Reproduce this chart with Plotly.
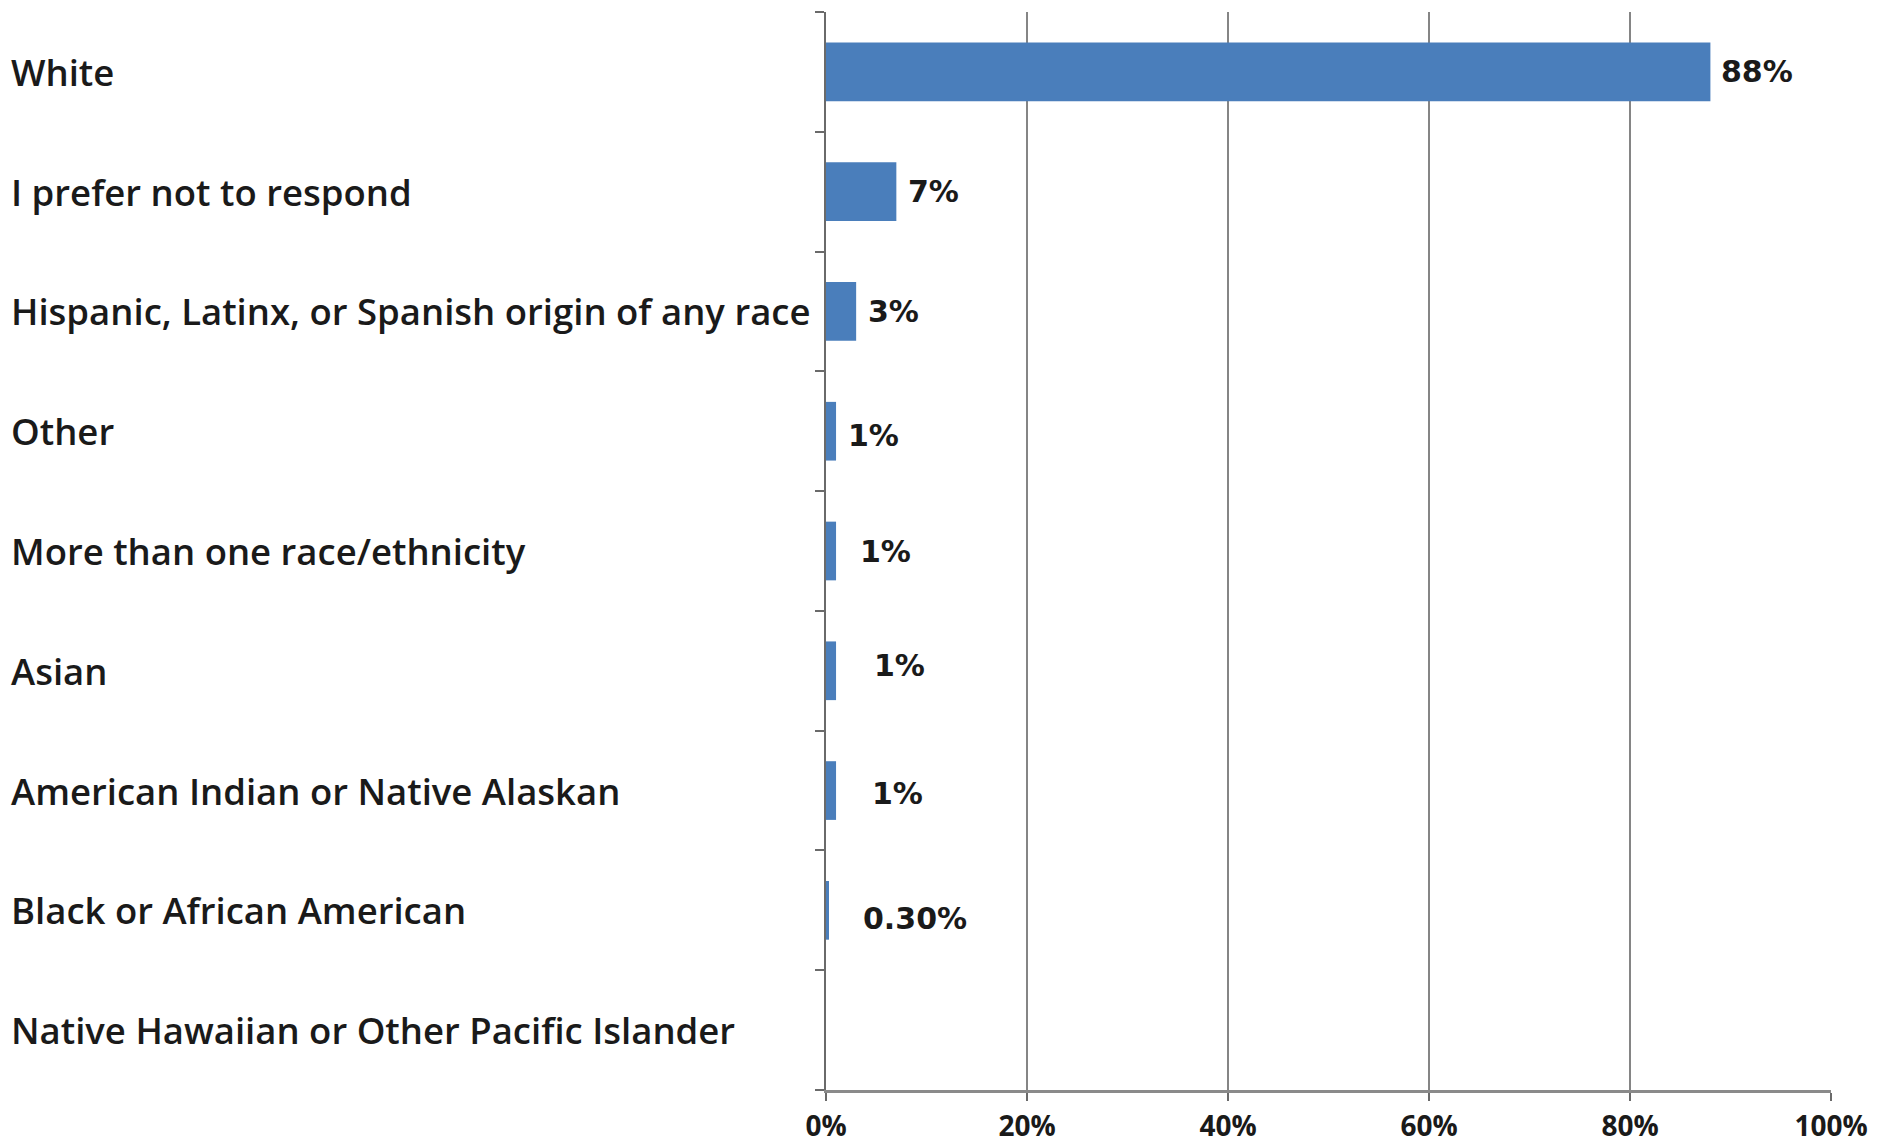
import plotly.graph_objects as go

categories = [
    "White",
    "I prefer not to respond",
    "Hispanic, Latinx, or Spanish origin of any race",
    "Other",
    "More than one race/ethnicity",
    "Asian",
    "American Indian or Native Alaskan",
    "Black or African American",
    "Native Hawaiian or Other Pacific Islander",
]
values = [0.88, 0.07, 0.03, 0.01, 0.01, 0.01, 0.01, 0.003, 0.0]
value_labels = ["88%", "7%", "3%", "1%", "1%", "1%", "1%", "0.30%", ""]
x_ticks = [0, 0.2, 0.4, 0.6, 0.8, 1.0]
x_tick_labels = ["0%", "20%", "40%", "60%", "80%", "100%"]

# label placement tweaks (pixel offsets, as in the original Excel chart)
label_xshift = [9, 10, 10, 10, 22, 36, 34, 32, 0]
label_yshift = [0, 0, 0, -4, 0, 5, -3, -8, 0]

# page body has an 8px margin; size the figure so it fills the window
W, H = 1875, 1140
ML, MR, MT, MB = 818, 52, 4, 58
plot_w = W - ML - MR

fig = go.Figure()
fig.add_trace(go.Bar(
    y=categories,
    x=values,
    orientation="h",
    marker=dict(color="#4A7EBB", line=dict(width=0)),
    hoverinfo="skip",
))

annotations = []
for cat, v, lab, xs, ys in zip(categories, values, value_labels, label_xshift, label_yshift):
    if lab:
        annotations.append(dict(
            x=v, y=cat, xref="x", yref="y", text=lab, showarrow=False,
            xanchor="left", yanchor="middle", xshift=xs, yshift=ys,
            font=dict(family="DejaVu Sans", size=30, color="#1a1a1a", weight="bold"),
        ))
    annotations.append(dict(
        x=(1 - ML) / plot_w, y=cat, xref="paper", yref="y", text=cat, showarrow=False,
        xanchor="left", yanchor="middle",
        font=dict(family="Open Sans", size=36.5, color="#1a1a1a", weight=600),
    ))

fig.update_layout(
    width=W, height=H,
    margin=dict(l=ML, r=MR, t=MT, b=MB, pad=0, autoexpand=False),
    paper_bgcolor="white", plot_bgcolor="white",
    showlegend=False,
    bargap=0.51,
    annotations=annotations,
    xaxis=dict(
        range=[0, 1], tickvals=x_ticks, ticktext=x_tick_labels,
        showgrid=True, gridcolor="#858585", gridwidth=1.5,
        showline=True, linecolor="#8a8a8a", linewidth=3,
        ticks="outside", ticklen=8, tickcolor="#6a6a6a", tickwidth=1.5,
        ticklabelstandoff=1, automargin=False,
        tickfont=dict(family="Open Sans", size=28, color="#1a1a1a", weight=700),
        zeroline=False, fixedrange=True,
    ),
    yaxis=dict(
        categoryorder="array", categoryarray=categories[::-1],
        showticklabels=False, tickson="boundaries", automargin=False,
        ticks="outside", ticklen=9, tickcolor="#6a6a6a", tickwidth=1.5,
        showline=True, linecolor="#6a6a6a", linewidth=1.5,
        showgrid=False, zeroline=False, fixedrange=True,
    ),
)

fig.write_html("out.html")
